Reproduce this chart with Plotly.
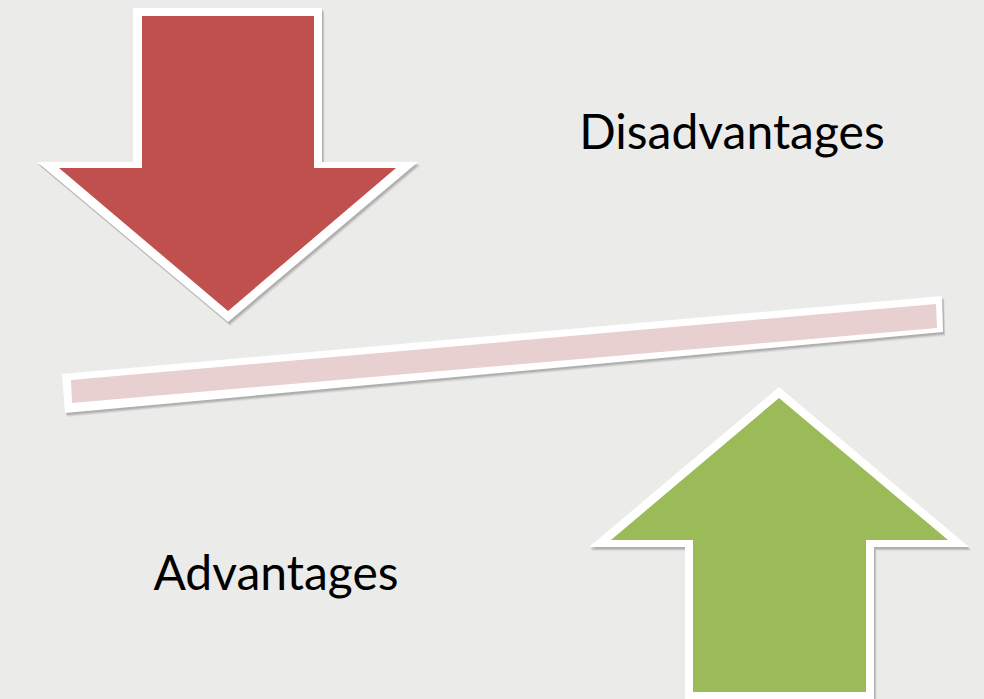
import plotly.graph_objects as go

# ---- content ----
labels = ["Disadvantages", "Advantages"]
label_x = [732, 276]
label_y = [137, 578]

# ---- colours ----
BG = "#EBEBE9"
RED = "#C0504D"
GREEN = "#9BBB59"
PINK = "#E8CFD0"
WHITE = "#FFFFFF"

W, H = 984, 699

# ---- geometry (pixel space, y down) ----
red_outer = [(133, 8), (322, 8), (322, 162), (418, 162), (228, 322), (37, 162), (133, 162)]
red_inner = [(142, 16), (314, 16), (314, 168), (396, 168), (228, 311), (59, 168), (142, 168)]

green_outer = [(779, 387), (969, 547), (874, 547), (874, 705), (685, 705), (685, 547), (589, 547)]
green_inner = [(779, 398), (948, 540), (866, 540), (866, 692), (693, 692), (693, 540), (611, 540)]

bar_outer = [(62, 374), (942, 296), (943, 332), (65, 413)]
bar_inner = [(71, 380), (936, 304), (937, 328), (72, 403)]


def path(pts, dx=0, dy=0):
    return "M " + " L ".join(f"{x+dx},{y+dy}" for x, y in pts) + " Z"


shapes = []


def add_shape(pts, color, dx=0, dy=0, opacity=1.0):
    shapes.append(dict(type="path", path=path(pts, dx, dy), xref="x", yref="y",
                       fillcolor=color, line=dict(width=0), opacity=opacity,
                       layer="above"))


def add_shadow(pts):
    for d, op in [(4, 0.06), (3, 0.09), (2, 0.12)]:
        add_shape(pts, "#000000", dx=d * 0.6, dy=d, opacity=op)


for outer, inner, col in [(red_outer, red_inner, RED),
                          (bar_outer, bar_inner, PINK),
                          (green_outer, green_inner, GREEN)]:
    add_shadow(outer)
    add_shape(outer, WHITE)
    add_shape(inner, col)

fig = go.Figure()
fig.add_trace(go.Scatter(x=label_x, y=label_y, mode="text", text=labels,
                         textfont=dict(family="Lato", size=48, color="#000000"),
                         hoverinfo="skip", showlegend=False))

fig.update_layout(
    width=W, height=H,
    margin=dict(l=0, r=0, t=0, b=0),
    paper_bgcolor=BG, plot_bgcolor=BG,
    xaxis=dict(range=[0, W], visible=False, fixedrange=True),
    yaxis=dict(range=[H, 0], visible=False, fixedrange=True),
    shapes=shapes,
    showlegend=False,
)

fig.write_html("out.html", config={"displayModeBar": False},
               post_script="document.body.style.margin='0';document.body.style.overflow='hidden';")
